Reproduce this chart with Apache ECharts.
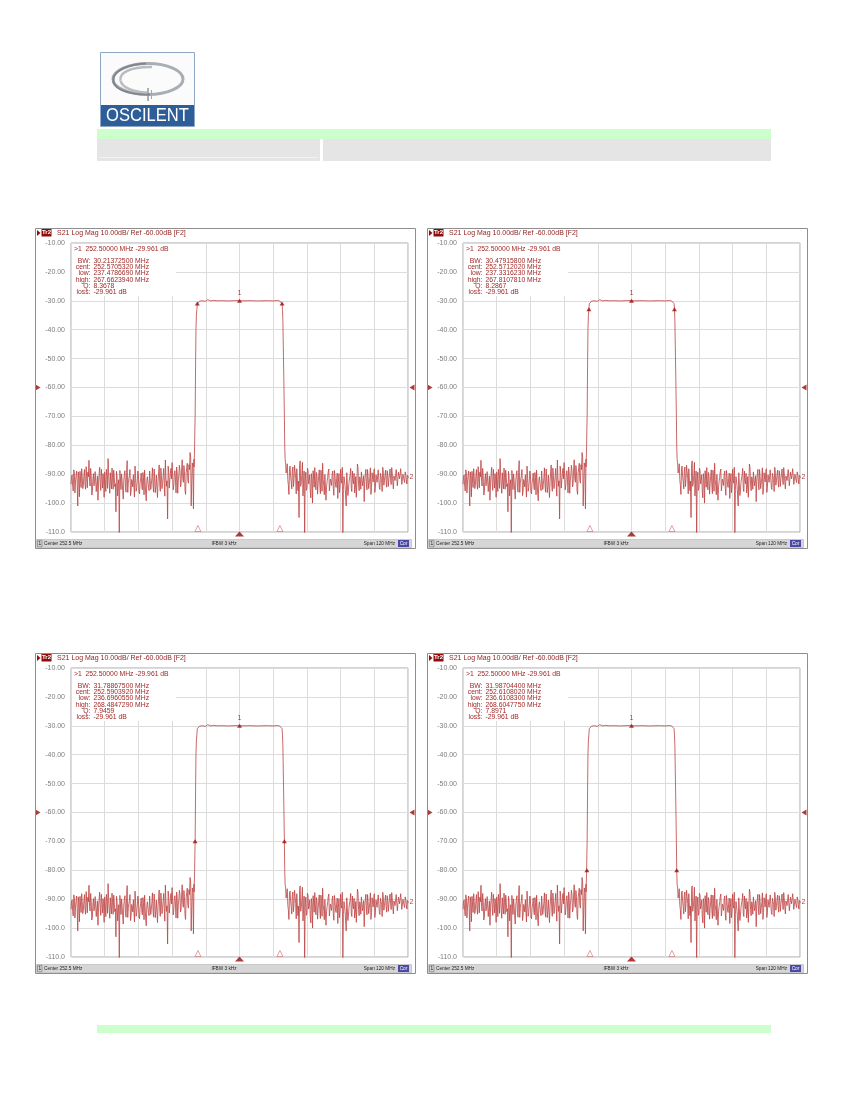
<!DOCTYPE html>
<html><head><meta charset="utf-8">
<script src="https://cdn.jsdelivr.net/npm/echarts@6/dist/echarts.min.js"></script>
<style>html,body{margin:0;padding:0;background:#fff}#c{width:850px;height:1100px}</style>
</head><body><div id="c"></div><script>
// ---------- DATA ----------
const spanStartMHz = 192.5, spanStopMHz = 312.5, divMHz = 12;
const yTickLabels = ['-110.0','-100.0','-90.00','-80.00','-70.00','-60.00','-50.00','-40.00','-30.00','-20.00','-10.00'];
const noiseStepMHz = 0.4;
// left noise floor, two interleaved sample sets (offset by half a step)
const noiseLeftStartMHz = 192.5;
const noiseLeftDb = [-93.5,-90.2,-95.8,-89.6,-92.7,-88.9,-101.0,-91.3,-89.0,-94.6,-90.8,-93.9,-88.4,-95.2,-91.0,-89.3,-85.2,-94.1,-90.6,-96.3,-89.8,-92.4,-88.7,-95.5,-99.0,-90.1,-93.2,-88.3,-94.8,-91.5,-89.2,-96.0,-90.4,-84.6,-93.7,-89.5,-95.1,-91.2,-88.6,-94.3,-103.0,-90.7,-93.6,-110.5,-91.4,-89.9,-95.6,-92.0,-88.8,-96.2,-85.3,-93.0,-90.5,-97.4,-91.8,-94.4,-89.7,-87.2,-95.9,-92.3,-90.0,-96.8,-91.6,-94.0,-89.4,-97.1,-92.6,-99.2,-90.9,-94.7,-88.9,-95.3,-91.1,-93.8,-88.2,-96.4,-90.3,-98.1,-89.6,-93.4,-87.9,-95.0,-90.8,-92.9,-85.1,-94.2,-105.5,-89.5,-92.1,-88.0,-86.0,-95.4,-89.9,-91.7,-87.5,-96.6,-90.2,-88.6,-93.5,-85.0,-92.8,-89.1,-97.0,-87.8,-91.9,-86.7,-82.5,-101.0,-86.1,-102.0];
const noiseLeft2StartMHz = 192.7;
const noiseLeft2Db = [-91.0,-94.2,-88.5,-96.5,-90.4,-93.1,-89.2,-97.8,-92.0,-88.1,-95.0,-90.3,-93.6,-87.4,-94.7,-90.9,-92.5,-88.0,-97.2,-91.7,-94.0,-89.1,-96.0,-90.6,-92.9,-87.6,-95.6,-91.2,-89.8,-98.0,-92.4,-88.3,-94.9,-90.0,-96.6,-92.8,-87.9,-95.2,-90.7,-93.3,-89.0,-97.5,-91.9,-88.7,-95.3,-92.2,-98.6,-90.1,-94.5,-89.4,-96.3,-91.5,-88.4,-95.8,-92.7,-90.2,-97.9,-91.0,-94.6,-88.9,-96.1,-93.0,-89.6,-95.4,-91.2,-88.6,-96.9,-92.1,-90.4,-95.7,-89.3,-93.5,-87.8,-96.2,-91.4,-94.3,-89.9,-92.6,-86.8,-95.9,-90.6,-93.2,-88.0,-97.6,-90.9,-92.3,-87.2,-94.8,-89.7,-91.6,-86.4,-93.9,-88.8,-96.5,-89.1,-92.0,-86.9,-94.4,-88.2,-91.3,-87.0,-95.6,-89.5,-86.2,-93.1,-88.4,-84.0,-92.5,-87.3,-84.8];
// right noise floor, two interleaved sample sets
const noiseRightStartMHz = 268.9;
const noiseRightDb = [-85.8,-88.4,-91.9,-97.0,-87.2,-92.6,-89.0,-94.3,-86.9,-91.5,-88.1,-95.7,-105.0,-85.4,-92.8,-85.9,-93.6,-110.5,-89.3,-94.9,-88.7,-92.2,-96.1,-89.8,-100.0,-91.0,-87.7,-95.4,-90.6,-93.3,-88.5,-96.7,-91.4,-86.2,-94.0,-90.1,-99.0,-92.5,-89.2,-95.8,-91.7,-93.9,-88.9,-97.3,-90.4,-94.6,-89.6,-92.9,-96.4,-88.3,-93.1,-110.5,-90.8,-94.2,-101.0,-89.4,-95.5,-91.3,-88.0,-96.0,-92.0,-89.7,-94.8,-98.0,-86.5,-93.5,-90.9,-95.2,-88.8,-92.4,-99.5,-90.2,-93.7,-88.4,-95.0,-91.1,-97.0,-89.5,-92.7,-88.1,-94.1,-90.7,-93.0,-88.9,-95.3,-90.0,-96.0,-89.2,-92.3,-88.6,-94.5,-90.5,-91.8,-88.2,-93.6,-89.9,-95.1,-90.3,-92.6,-88.7,-94.0,-89.4,-92.1,-88.5,-93.2,-89.8,-92.9,-90.1,-93.4,-91.0];
const noiseRight2StartMHz = 269.1;
const noiseRight2Db = [-89.6,-86.4,-93.8,-88.2,-90.7,-95.1,-87.5,-91.9,-89.0,-96.8,-88.6,-92.4,-86.8,-94.2,-90.1,-97.5,-88.9,-92.0,-95.6,-87.9,-93.4,-90.2,-98.2,-91.6,-88.8,-94.5,-92.1,-89.4,-96.9,-90.7,-93.8,-88.6,-95.9,-91.8,-97.1,-89.9,-94.4,-91.1,-88.2,-96.2,-92.6,-90.0,-95.0,-88.7,-93.7,-91.5,-98.4,-89.8,-94.1,-92.3,-87.6,-95.3,-91.0,-93.9,-89.5,-97.4,-92.8,-90.3,-94.9,-88.9,-93.3,-96.5,-90.8,-92.9,-87.9,-95.7,-91.7,-89.2,-94.0,-90.5,-92.2,-88.3,-95.4,-90.9,-93.1,-87.8,-94.7,-91.3,-89.6,-96.3,-90.2,-92.8,-88.5,-94.6,-89.7,-91.9,-87.6,-93.8,-90.4,-92.5,-88.8,-94.2,-89.9,-91.4,-87.7,-93.0,-90.6,-92.2,-88.4,-94.0,-89.3,-91.6,-88.1,-93.5,-90.0,-92.1,-89.2,-91.8,-90.4,-91.2];
// skirts and passband as [MHz, dB]
const skirtBand = [[236.3,-87.5],[236.45,-83],[236.52,-80],[236.62,-74],[236.70,-70],[236.78,-62],[236.88,-50],[237.0,-40],[237.15,-35],[237.33,-33],[237.48,-31],[237.75,-30.4],[238.3,-30.1],[238.9,-30.35],[239.5,-30.0],[240.3,-30.2],[241.2,-29.6],[242.1,-30.0],[243.2,-29.9],[244.8,-30.0],[246.5,-29.95],[248.5,-30.05],[250.5,-29.95],[252.5,-29.96],[254.5,-30.0],[256.5,-29.95],[258.5,-30.05],[260.5,-30.0],[262.5,-29.95],[264.5,-30.05],[266.0,-29.9],[266.8,-30.05],[267.3,-30.3],[267.66,-31],[267.81,-33],[267.95,-37],[268.1,-46],[268.3,-58],[268.48,-70],[268.6,-80],[268.75,-85]];
const marker1 = [252.5, -29.961];
const bwText = ['30.21372500','30.47915800','31.78867500','31.98704400'];
const centText = ['252.5705320','252.5712020','252.5903920','252.6108020'];
const lowMHz = [237.4786690, 237.3316230, 236.6960550, 236.6108300];
const highMHz = [267.6623940, 267.8107810, 268.4847290, 268.6047750];
const qText = ['8.3678','8.2867','7.9459','7.8971'];
const markerLevelDb = [-30.961, -32.961, -69.961, -79.961];
const stimMarksMHz = [237.7, 266.9];
const refLevelDb = -60;
const traceEndLabel = [312.5, -91];

// ---------- BUILD ----------
function toPairs(start, step, arr){ return arr.map((v,k)=>[+(start+k*step).toFixed(3), v]); }
function merged(a, b){ return a.concat(b).sort((p,q)=>p[0]-q[0]); }
const traceData = merged(toPairs(noiseLeftStartMHz, noiseStepMHz, noiseLeftDb), toPairs(noiseLeft2StartMHz, noiseStepMHz, noiseLeft2Db))
  .concat(skirtBand)
  .concat(merged(toPairs(noiseRightStartMHz, noiseStepMHz, noiseRightDb), toPairs(noiseRight2StartMHz, noiseStepMHz, noiseRight2Db)));

const panels = [{gx:71,gy:243},{gx:463,gy:243},{gx:71,gy:668},{gx:463,gy:668}];
const PW = 337, PH = 289;
const FONT = 'Liberation Sans, Arial, sans-serif';
const RED = '#bc4343', DARK = '#9a0a0a', TXT = '#a02828';

const grids = [], xAxes = [], yAxes = [], series = [], graphics = [];
function T(x,y,text,o){
  o = o||{};
  return {type:'text', x:x, y:y, scaleX:o.sx||1, z:o.z||10,
    style:{text:text, fontSize:o.fs||7, fontFamily:o.ff||FONT, fontWeight:o.fw||'normal', fill:o.c||TXT,
      align:o.a||'left', textAlign:o.a||'left', verticalAlign:'middle', textVerticalAlign:'middle'}};
}
function bez(x1,y1,c1x,c1y,c2x,c2y,x2,y2,stroke,w){
  return {type:'bezierCurve', z:3, shape:{x1:x1,y1:y1,cpx1:c1x,cpy1:c1y,cpx2:c2x,cpy2:c2y,x2:x2,y2:y2}, style:{fill:'none', stroke:stroke, lineWidth:w}};
}

panels.forEach((p,i)=>{
  grids.push({left:p.gx, top:p.gy, width:PW, height:PH, show:true, borderColor:'#a8a8a8', borderWidth:1, backgroundColor:'#fff', containLabel:false});
  xAxes.push({type:'value', gridIndex:i, min:spanStartMHz, max:spanStopMHz, interval:divMHz,
    axisLabel:{show:false}, axisTick:{show:false}, axisLine:{show:false},
    splitLine:{show:true, lineStyle:{color:'#dcdcdc', width:1}}});
  yAxes.push({type:'value', gridIndex:i, min:-110, max:-10, interval:10,
    axisLabel:{formatter:v=>yTickLabels[Math.round((v+110)/10)], color:'#7c7c7c', fontSize:7, fontFamily:FONT, margin:6},
    axisTick:{show:false}, axisLine:{show:false},
    splitLine:{show:true, lineStyle:{color:'#dcdcdc', width:1}}});
  series.push({type:'line', xAxisIndex:i, yAxisIndex:i, data:traceData, symbol:'none', clip:true,
    lineStyle:{color:RED, width:0.8}, z:3});
  series.push({type:'scatter', xAxisIndex:i, yAxisIndex:i, data:[[lowMHz[i], markerLevelDb[i]],[highMHz[i], markerLevelDb[i]]],
    symbol:'triangle', symbolSize:[5,4], itemStyle:{color:DARK}, z:4});
  series.push({type:'scatter', xAxisIndex:i, yAxisIndex:i, data:[marker1],
    symbol:'triangle', symbolSize:[5,4], itemStyle:{color:DARK}, z:4,
    label:{show:true, formatter:'1', position:'top', distance:2, fontSize:7, fontFamily:FONT, color:DARK}});
  series.push({type:'scatter', xAxisIndex:i, yAxisIndex:i, data:stimMarksMHz.map(f=>[f,-110]),
    symbol:'triangle', symbolSize:[6,6], symbolOffset:[0,-3.5], clip:false,
    itemStyle:{color:'#fff', borderColor:'#d46a6a', borderWidth:0.8}, z:4});
  series.push({type:'scatter', xAxisIndex:i, yAxisIndex:i, data:[[marker1[0],-110]],
    symbol:'triangle', symbolSize:[9,5], symbolOffset:[0,2], clip:false, itemStyle:{color:DARK}, z:4});
  series.push({type:'scatter', xAxisIndex:i, yAxisIndex:i, data:[[spanStopMHz, refLevelDb]],
    symbol:'triangle', symbolRotate:90, symbolSize:[6,5], symbolOffset:[4,0], clip:false, itemStyle:{color:DARK}, z:4});
  series.push({type:'scatter', xAxisIndex:i, yAxisIndex:i, data:[[spanStartMHz, refLevelDb]],
    symbol:'triangle', symbolRotate:-90, symbolSize:[6,5], symbolOffset:[-33,0], clip:false, itemStyle:{color:DARK}, z:4});
  series.push({type:'scatter', xAxisIndex:i, yAxisIndex:i, data:[traceEndLabel],
    symbol:'circle', symbolSize:1, clip:false, z:4, itemStyle:{color:'rgba(0,0,0,0)'},
    label:{show:true, formatter:'2', position:'right', distance:1, fontSize:7, fontFamily:FONT, color:DARK}});

  const gx = p.gx, gy = p.gy;
  graphics.push({type:'rect', z:9, shape:{x:gx-35.5, y:gy-14.5, width:380, height:320}, style:{fill:'none', stroke:'#8e8e8e', lineWidth:1}});
  graphics.push({type:'polygon', z:10, shape:{points:[[gx-34,gy-13],[gx-30.5,gy-10],[gx-34,gy-7]]}, style:{fill:DARK}});
  graphics.push({type:'rect', z:10, shape:{x:gx-29.5, y:gy-14, width:10, height:7.5}, style:{fill:'#8e0c0c'}});
  graphics.push(T(gx-24.5, gy-10.2, 'Tr2', {c:'#fff', fs:6, a:'center', fw:'bold'}));
  graphics.push(T(gx-14, gy-10, 'S21 Log Mag 10.00dB/ Ref -60.00dB [F2]', {c:'#8e1c1c', fs:7}));
  graphics.push({type:'rect', z:2, shape:{x:gx+1, y:gy+1, width:104, height:52}, style:{fill:'#fff'}});
  graphics.push(T(gx+3, gy+6, '>1  252.50000 MHz -29.961 dB', {fs:6.8}));
  const labs = ['BW:','cent:','low:','high:','Q:','loss:'];
  const vals = [bwText[i]+' MHz', centText[i]+' MHz', lowMHz[i].toFixed(7)+' MHz', highMHz[i].toFixed(7)+' MHz', qText[i], '-29.961 dB'];
  labs.forEach((l,k)=>{
    const y = gy + 18 + k*6.3;
    graphics.push(T(gx+19.5, y, l, {fs:6.8, a:'right'}));
    graphics.push(T(gx+22.5, y, vals[k], {fs:6.8}));
  });
  const sy = gy + 296.5;
  graphics.push({type:'rect', z:9, shape:{x:gx-34.5, y:sy, width:375, height:8}, style:{fill:'#d6d6d6', stroke:'#b4b4b4', lineWidth:0.6}});
  graphics.push({type:'rect', z:10, shape:{x:gx-33.5, y:sy+0.8, width:4.5, height:6.4}, style:{fill:'none', stroke:'#707070', lineWidth:0.6}});
  graphics.push(T(gx-31.3, sy+4.2, '1', {c:'#222', fs:5.5, a:'center'}));
  graphics.push(T(gx-27, sy+4.2, 'Center 252.5 MHz', {c:'#222', fs:5.5, sx:0.86}));
  graphics.push(T(gx+153, sy+4.2, 'IFBW 3 kHz', {c:'#222', fs:5.5, sx:0.86, a:'center'}));
  graphics.push(T(gx+324, sy+4.2, 'Span 120 MHz', {c:'#222', fs:5.5, sx:0.86, a:'right'}));
  graphics.push({type:'rect', z:10, shape:{x:gx+327, y:sy+0.5, width:11, height:7}, style:{fill:'#4a4aa6'}});
  graphics.push(T(gx+332.5, sy+4.2, 'Cor', {c:'#fff', fs:5.5, a:'center', sx:0.86}));
});

graphics.push({type:'rect', z:1, shape:{x:97, y:129, width:674, height:10}, style:{fill:'#ccffcc'}});
graphics.push({type:'rect', z:1, shape:{x:97, y:139, width:223, height:22}, style:{fill:'#e5e5e5'}});
graphics.push({type:'rect', z:1, shape:{x:323, y:139, width:448, height:22}, style:{fill:'#e5e5e5'}});
graphics.push({type:'line', z:1, shape:{x1:99, y1:157.5, x2:318, y2:157.5}, style:{stroke:'#f2f2f2', lineWidth:1}});
graphics.push({type:'rect', z:1, shape:{x:97, y:1025, width:674, height:8}, style:{fill:'#ccffcc'}});
graphics.push({type:'rect', z:1, shape:{x:100.5, y:52.5, width:94, height:74}, style:{fill:'#fbfbfb', stroke:'#8ea6c6', lineWidth:1}});
graphics.push({type:'rect', z:2, shape:{x:101, y:105, width:93, height:21}, style:{fill:'#2d5e97'}});
graphics.push({type:'text', z:3, x:147.5, y:116.5, scaleX:0.92, style:{text:'OSCILENT', fontSize:18, fontFamily:FONT, fill:'#fff', align:'center', textAlign:'center', verticalAlign:'middle', textVerticalAlign:'middle'}});
graphics.push({type:'ellipse', z:2, shape:{cx:148, cy:79, rx:35, ry:15.5}, style:{fill:'none', stroke:'#a9aeb4', lineWidth:3}});
graphics.push(bez(150,94.5, 126,95, 111,88, 113.5,78, '#80868d', 2));
graphics.push(bez(113.5,78, 115.5,70, 128,64.5, 146,63.5, '#80868d', 2));
graphics.push(bez(152,67, 130,66.5, 119,73, 120.5,80.5, '#b8bdc2', 2.5));
graphics.push(bez(120.5,80.5, 122,88, 134,92, 147,92.5, '#b8bdc2', 2.5));
graphics.push({type:'line', z:3, shape:{x1:148, y1:88, x2:148, y2:101}, style:{stroke:'#8a9096', lineWidth:1.4}});
graphics.push({type:'line', z:3, shape:{x1:151.5, y1:90, x2:151.5, y2:99}, style:{stroke:'#a0a5aa', lineWidth:1}});

const chart = echarts.init(document.getElementById('c'), null, {renderer:'canvas'});
chart.setOption({
  animation:false,
  grid:grids, xAxis:xAxes, yAxis:yAxes, series:series,
  graphic:{elements:graphics}
});
</script></body></html>
